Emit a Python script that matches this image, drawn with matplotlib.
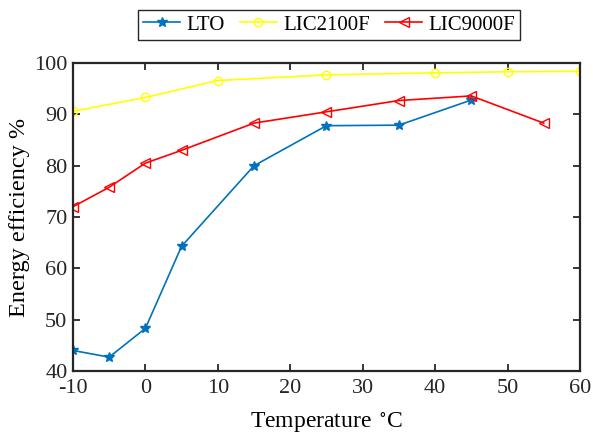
import matplotlib.pyplot as plt

plt.rcParams['font.family'] = ['Liberation Serif', 'DejaVu Serif']
plt.rcParams['mathtext.fontset'] = 'stix'
plt.rcParams['axes.unicode_minus'] = False

# data
x_lto = [-10, -5, 0, 5, 15, 25, 35, 45]
y_lto = [44.0, 42.7, 48.3, 64.3, 80.0, 87.8, 87.9, 92.8]

x_2100 = [-10, 0, 10, 25, 40, 50, 60]
y_2100 = [90.6, 93.3, 96.6, 97.7, 98.1, 98.3, 98.4]

x_9000 = [-10, -5, 0, 5, 15, 25, 35, 45, 55]
y_9000 = [72.0, 75.8, 80.5, 83.0, 88.3, 90.5, 92.7, 93.6, 88.3]

fig = plt.figure(figsize=(5.93, 4.38), dpi=100)
ax = fig.add_axes([0.123, 0.153, 0.855, 0.703])

ax.plot(x_lto, y_lto, color='#0072BD', marker='*', markersize=7, lw=1.2, label='LTO')
ax.plot(x_2100, y_2100, color='#FFFF00', marker='o', markersize=6, mfc='none', lw=1.2, label='LIC2100F')
ax.plot(x_9000, y_9000, color='#FF0000', marker='<', markersize=7, mfc='none', lw=1.2, label='LIC9000F')

ax.set_xlim(-10, 60)
ax.set_ylim(40, 100)
ax.set_xticks(range(-10, 61, 10))
ax.set_yticks(range(40, 101, 10))
ax.tick_params(direction='in', top=True, right=True, labelsize=16, length=5, width=1.3, colors='#262626')
ax.tick_params(axis='x', pad=6)
ax.tick_params(axis='y', pad=4)
for s in ax.spines.values():
    s.set_linewidth(1.6)
    s.set_color('#262626')

ax.set_xlabel('Temperature $\\,^{\\circ}$C', fontsize=17, labelpad=9)
ax.set_ylabel('Energy efficiency %', fontsize=17.5, labelpad=3)

fig.legend(loc='center', bbox_to_anchor=(0.555, 0.943), ncol=3, fontsize=15,
           fancybox=False, edgecolor='#262626', framealpha=1,
           handlelength=1.8, columnspacing=0.7, handletextpad=0.3, borderpad=0.25)

plt.savefig('out.png')
